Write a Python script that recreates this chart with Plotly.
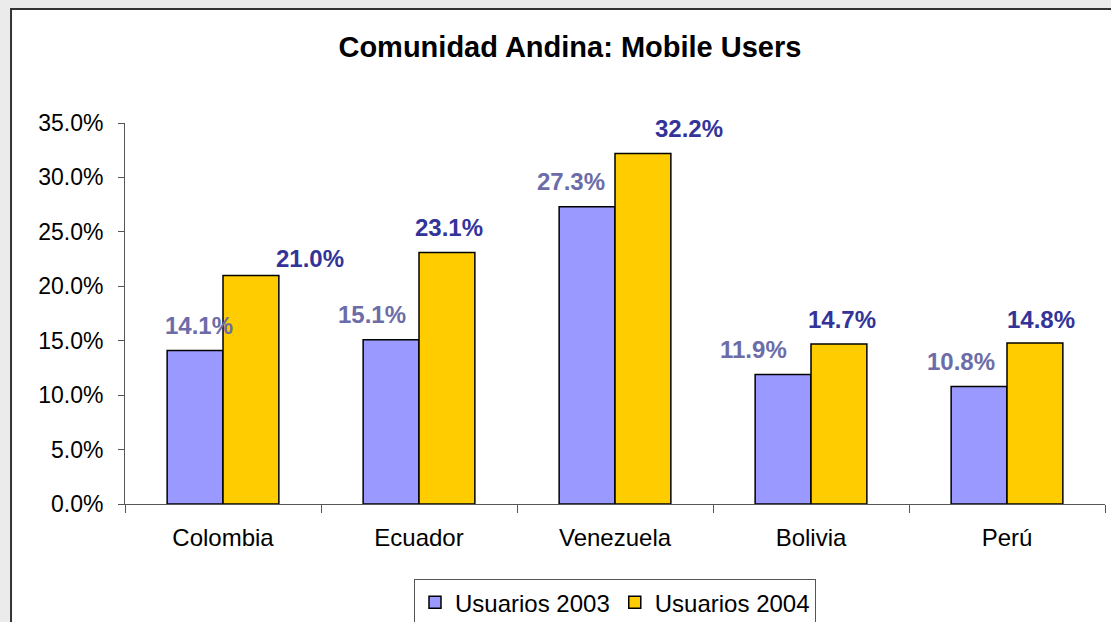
import plotly.graph_objects as go

countries = ["Colombia", "Ecuador", "Venezuela", "Bolivia", "Perú"]
users_2003 = [0.141, 0.151, 0.273, 0.119, 0.108]
users_2004 = [0.210, 0.231, 0.322, 0.147, 0.148]
series_names = ["Usuarios 2003", "Usuarios 2004"]

FONT = "Arial, Liberation Sans, sans-serif"
BAR_COLORS = ["#9999ff", "#ffcc00"]
LABEL_COLORS = ["#6c6ca8", "#333399"]

# label offsets in px (the original labels were dragged around by hand)
LABEL_XSHIFT = [[-24, -47, -44, -58, -46], [87, 30, 74, 31, 34]]
LABEL_YSHIFT = [[25, 25, 25, 25, 25], [17, 25, 25, 24, 23]]

fig = go.Figure()
for name, vals, color in zip(series_names, [users_2003, users_2004], BAR_COLORS):
    fig.add_trace(go.Bar(
        x=countries,
        y=vals,
        name=name,
        marker=dict(color=color, line=dict(color="#000000", width=1.5)),
    ))

annotations = []
for s, vals in enumerate([users_2003, users_2004]):
    for i, (c, v) in enumerate(zip(countries, vals)):
        annotations.append(dict(
            x=c, y=v, xref="x", yref="y",
            text=f"{v * 100:.1f}%",
            showarrow=False,
            xanchor="center", yanchor="middle",
            xshift=LABEL_XSHIFT[s][i], yshift=LABEL_YSHIFT[s][i],
            font=dict(family=FONT, size=24, color=LABEL_COLORS[s], weight="bold"),
        ))

# white chart area with a dark frame on the grey page
shapes = [dict(
    type="rect", xref="paper", yref="paper",
    x0=-0.1163, x1=1.2, y0=-0.5, y1=1.2992,
    fillcolor="#ffffff", line=dict(color="#333333", width=2),
    layer="below",
)]

fig.update_layout(
    width=1111, height=622,
    title=dict(
        text="<b>Comunidad Andina: Mobile Users</b>",
        x=0.513, xref="container", xanchor="center",
        y=0.925, yref="container", yanchor="middle",
        font=dict(family=FONT, size=29, color="#000000"),
    ),
    barmode="group",
    bargap=0.43,
    bargroupgap=0,
    paper_bgcolor="#ebebeb",
    plot_bgcolor="#ffffff",
    margin=dict(l=125, r=6, t=123, b=118, autoexpand=False),
    font=dict(family=FONT, size=21, color="#000000"),
    xaxis=dict(
        showline=True, linecolor="#555555", linewidth=1,
        ticks="outside", tickson="boundaries", ticklen=8, tickcolor="#555555",
        tickfont=dict(family=FONT, size=24, color="#000000"),
        ticklabelstandoff=12,
        showgrid=False,
    ),
    yaxis=dict(
        range=[0, 0.35], dtick=0.05, tickformat=".1%",
        showline=True, linecolor="#555555", linewidth=1,
        ticks="outside", ticklen=6, tickcolor="#555555",
        tickfont=dict(family=FONT, size=23, color="#000000"),
        ticklabelstandoff=10,
        showgrid=False, zeroline=False,
    ),
    legend=dict(
        orientation="h",
        x=0.5, xanchor="center",
        y=-0.197, yanchor="top",
        bordercolor="#555555", borderwidth=1, bgcolor="#ffffff",
        font=dict(family=FONT, size=24, color="#000000"),
        itemwidth=30,
    ),
    annotations=annotations,
    shapes=shapes,
)

fig.write_html(
    "out.html",
    config={"displayModeBar": False},
    post_script="document.body.style.margin='0';document.body.style.background='#ebebeb';",
)
